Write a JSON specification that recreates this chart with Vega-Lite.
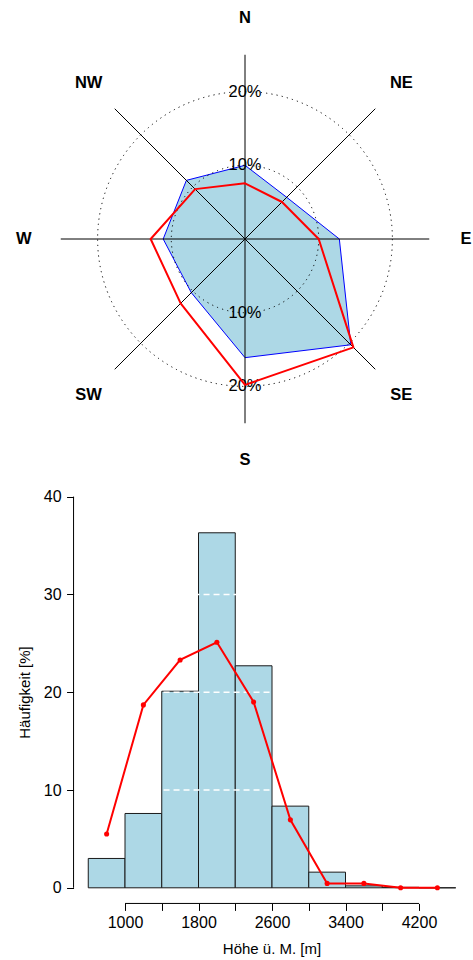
{
  "$schema": "https://vega.github.io/schema/vega-lite/v6.json",
  "padding": 0,
  "spacing": 0,
  "autosize": {"type": "pad"},
  "config": {
    "view": {"stroke": null},
    "font": "Liberation Sans",
    "axis": {"labelFont": "Liberation Sans", "titleFont": "Liberation Sans", "labelColor": "black", "titleColor": "black", "tickColor": "black", "titleFontWeight": "normal"}
  },
  "datasets": {
    "rose": [
      {"dir": "N", "angle": 0, "series": "A", "value": 10.0},
      {"dir": "NE", "angle": 45, "series": "A", "value": 8.0},
      {"dir": "E", "angle": 90, "series": "A", "value": 12.8},
      {"dir": "SE", "angle": 135, "series": "A", "value": 20.3},
      {"dir": "S", "angle": 180, "series": "A", "value": 16.1},
      {"dir": "SW", "angle": 225, "series": "A", "value": 10.3},
      {"dir": "W", "angle": 270, "series": "A", "value": 11.1},
      {"dir": "NW", "angle": 315, "series": "A", "value": 11.25},
      {"dir": "N", "angle": 0, "series": "B", "value": 7.56},
      {"dir": "NE", "angle": 45, "series": "B", "value": 7.1},
      {"dir": "E", "angle": 90, "series": "B", "value": 10.0},
      {"dir": "SE", "angle": 135, "series": "B", "value": 20.8},
      {"dir": "S", "angle": 180, "series": "B", "value": 19.8},
      {"dir": "SW", "angle": 225, "series": "B", "value": 12.35},
      {"dir": "W", "angle": 270, "series": "B", "value": 12.8},
      {"dir": "NW", "angle": 315, "series": "B", "value": 9.57}
    ],
    "hist": [
      {"von": 600, "bis": 1000, "anteil": 3.0},
      {"von": 1000, "bis": 1400, "anteil": 7.6},
      {"von": 1400, "bis": 1800, "anteil": 20.1},
      {"von": 1800, "bis": 2200, "anteil": 36.3},
      {"von": 2200, "bis": 2600, "anteil": 22.7},
      {"von": 2600, "bis": 3000, "anteil": 8.35},
      {"von": 3000, "bis": 3400, "anteil": 1.6},
      {"von": 3400, "bis": 3800, "anteil": 0.2},
      {"von": 3800, "bis": 4200, "anteil": 0.05},
      {"von": 4200, "bis": 4600, "anteil": 0.0}
    ],
    "freq": [
      {"hoehe": 800, "anteil": 5.5},
      {"hoehe": 1200, "anteil": 18.7},
      {"hoehe": 1600, "anteil": 23.3},
      {"hoehe": 2000, "anteil": 25.1},
      {"hoehe": 2400, "anteil": 19.0},
      {"hoehe": 2800, "anteil": 6.95},
      {"hoehe": 3200, "anteil": 0.45},
      {"hoehe": 3600, "anteil": 0.45},
      {"hoehe": 4000, "anteil": 0.0},
      {"hoehe": 4400, "anteil": 0.0}
    ]
  },
  "vconcat": [
    {
      "width": 473,
      "height": 470,
      "layer": [
        {
          "data": {"name": "rose"},
          "transform": [
            {"filter": "datum.series == 'A'"},
            {"calculate": "datum.value * sin(datum.angle * PI / 180)", "as": "x"},
            {"calculate": "datum.value * cos(datum.angle * PI / 180)", "as": "y"}
          ],
          "mark": {"type": "line", "interpolate": "linear-closed", "fill": "#ADD8E6", "stroke": "#0000FF", "strokeWidth": 1},
          "encoding": {
            "x": {"field": "x", "type": "quantitative", "scale": {"domain": [-33.243, 30.936], "nice": false, "zero": false}, "axis": null},
            "y": {"field": "y", "type": "quantitative", "scale": {"domain": [-31.343, 32.429], "nice": false, "zero": false}, "axis": null},
            "order": {"field": "angle", "type": "quantitative"}
          }
        },
        {
          "data": {"values": [{"angle": 0}, {"angle": 45}, {"angle": 90}, {"angle": 135}]},
          "transform": [
            {"calculate": "25 * sin(datum.angle * PI / 180)", "as": "x"},
            {"calculate": "25 * cos(datum.angle * PI / 180)", "as": "y"},
            {"calculate": "-datum.x", "as": "x2"},
            {"calculate": "-datum.y", "as": "y2"}
          ],
          "mark": {"type": "rule", "stroke": "black", "strokeWidth": 1},
          "encoding": {
            "x": {"field": "x", "type": "quantitative", "scale": {"domain": [-33.243, 30.936], "nice": false, "zero": false}, "axis": null},
            "y": {"field": "y", "type": "quantitative", "scale": {"domain": [-31.343, 32.429], "nice": false, "zero": false}, "axis": null},
            "x2": {"field": "x2"},
            "y2": {"field": "y2"}
          }
        },
        {
          "data": {"values": [{"r": 10}, {"r": 20}]},
          "mark": {"type": "point", "shape": "circle", "filled": false, "stroke": "black", "strokeWidth": 1, "strokeDash": [1.2, 4.1], "opacity": 1},
          "encoding": {
            "x": {"datum": 0, "type": "quantitative", "scale": {"domain": [-33.243, 30.936], "nice": false, "zero": false}, "axis": null},
            "y": {"datum": 0, "type": "quantitative", "scale": {"domain": [-31.343, 32.429], "nice": false, "zero": false}, "axis": null},
            "size": {"field": "r", "type": "quantitative", "scale": {"type": "pow", "exponent": 2, "domain": [0, 20], "range": [0, 86908]}, "legend": null}
          }
        },
        {
          "data": {"values": [{"lab": "20%", "r": 20}, {"lab": "10%", "r": 10}, {"lab": "10%", "r": -10}, {"lab": "20%", "r": -20}]},
          "mark": {"type": "text", "font": "Liberation Sans", "fontSize": 16.5, "align": "center", "baseline": "middle", "color": "black"},
          "encoding": {
            "x": {"datum": 0, "type": "quantitative", "scale": {"domain": [-33.243, 30.936], "nice": false, "zero": false}, "axis": null},
            "y": {"field": "r", "type": "quantitative", "scale": {"domain": [-31.343, 32.429], "nice": false, "zero": false}, "axis": null},
            "text": {"field": "lab"}
          }
        },
        {
          "data": {"name": "rose"},
          "transform": [
            {"filter": "datum.series == 'B'"},
            {"calculate": "datum.value * sin(datum.angle * PI / 180)", "as": "x"},
            {"calculate": "datum.value * cos(datum.angle * PI / 180)", "as": "y"}
          ],
          "mark": {"type": "line", "interpolate": "linear-closed", "stroke": "#FF0000", "strokeWidth": 2, "strokeJoin": "round"},
          "encoding": {
            "x": {"field": "x", "type": "quantitative", "scale": {"domain": [-33.243, 30.936], "nice": false, "zero": false}, "axis": null},
            "y": {"field": "y", "type": "quantitative", "scale": {"domain": [-31.343, 32.429], "nice": false, "zero": false}, "axis": null},
            "order": {"field": "angle", "type": "quantitative"}
          }
        },
        {
          "data": {"values": [
            {"dir": "N", "angle": 0}, {"dir": "NE", "angle": 45}, {"dir": "E", "angle": 90}, {"dir": "SE", "angle": 135},
            {"dir": "S", "angle": 180}, {"dir": "SW", "angle": 225}, {"dir": "W", "angle": 270}, {"dir": "NW", "angle": 315}
          ]},
          "transform": [
            {"calculate": "30 * sin(datum.angle * PI / 180)", "as": "x"},
            {"calculate": "30 * cos(datum.angle * PI / 180)", "as": "y"}
          ],
          "mark": {"type": "text", "font": "Liberation Sans", "fontSize": 16.5, "fontWeight": "bold", "align": "center", "baseline": "middle", "color": "black"},
          "encoding": {
            "x": {"field": "x", "type": "quantitative", "scale": {"domain": [-33.243, 30.936], "nice": false, "zero": false}, "axis": null},
            "y": {"field": "y", "type": "quantitative", "scale": {"domain": [-31.343, 32.429], "nice": false, "zero": false}, "axis": null},
            "text": {"field": "dir"}
          }
        }
      ]
    },
    {
      "width": 473,
      "height": 490,
      "layer": [
        {
          "data": {"name": "hist"},
          "mark": {"type": "rect", "fill": "#ADD8E6", "stroke": "#1a1a1a", "strokeWidth": 1},
          "encoding": {
            "x": {
              "field": "von", "type": "quantitative",
              "scale": {"domain": [-360.54, 4787.7], "nice": false, "zero": false},
              "axis": {
                "title": "Höhe ü. M. [m]",
                "values": [1000, 1400, 1800, 2200, 2600, 3000, 3400, 3800, 4200],
                "format": "d",
                "labelExpr": "datum.value % 800 == 200 ? datum.label : ''",
                "domain": false, "grid": false, "ticks": true, "tickSize": 7,
                "labelFontSize": 16, "labelPadding": 4.4, "labelFlush": false, "labelOverlap": false,
                "offset": -56.6, "zindex": 1,
                "titleFontSize": 15, "titleX": 271.5, "titleY": 50, "titleBaseline": "alphabetic", "titleAlign": "center"
              }
            },
            "x2": {"field": "bis"},
            "y": {
              "field": "anteil", "type": "quantitative",
              "scale": {"domain": [-7.382, 42.72], "nice": false, "zero": false},
              "axis": {
                "title": "Häufigkeit [%]",
                "values": [0, 10, 20, 30, 40],
                "domain": false, "grid": false, "ticks": true, "tickSize": 7,
                "labelFontSize": 16, "labelPadding": 5.5, "labelFlush": false, "labelOverlap": false,
                "offset": -73.55, "zindex": 1,
                "titleFontSize": 15, "titleX": -43.9, "titleY": 222, "titleAngle": 270, "titleBaseline": "alphabetic", "titleAlign": "center"
              }
            },
            "y2": {"datum": 0}
          }
        },
        {
          "data": {"values": [{"g": 10}, {"g": 20}, {"g": 30}]},
          "mark": {"type": "rule", "stroke": "white", "strokeWidth": 1.5, "strokeDash": [6, 4]},
          "encoding": {
            "y": {"field": "g", "type": "quantitative"},
            "x": {"datum": 440, "type": "quantitative"},
            "x2": {"datum": 4760}
          }
        },
        {
          "data": {"values": [{"achse": "x"}]},
          "mark": {"type": "rule", "stroke": "black", "strokeWidth": 1},
          "encoding": {
            "x": {"datum": 1000, "type": "quantitative"},
            "x2": {"datum": 4200},
            "y": {"datum": -1.6, "type": "quantitative"}
          }
        },
        {
          "data": {"values": [{"achse": "y"}]},
          "mark": {"type": "rule", "stroke": "black", "strokeWidth": 1},
          "encoding": {
            "x": {"datum": 440, "type": "quantitative"},
            "y": {"datum": 0, "type": "quantitative"},
            "y2": {"datum": 40}
          }
        },
        {
          "data": {"name": "freq"},
          "mark": {"type": "line", "stroke": "#FF0000", "strokeWidth": 2},
          "encoding": {
            "x": {"field": "hoehe", "type": "quantitative"},
            "y": {"field": "anteil", "type": "quantitative"}
          }
        },
        {
          "data": {"name": "freq"},
          "mark": {"type": "circle", "color": "#FF0000", "size": 26, "opacity": 1},
          "encoding": {
            "x": {"field": "hoehe", "type": "quantitative"},
            "y": {"field": "anteil", "type": "quantitative"}
          }
        }
      ]
    }
  ]
}
